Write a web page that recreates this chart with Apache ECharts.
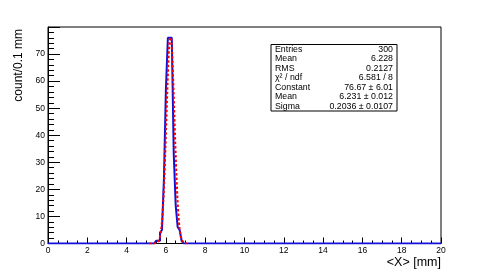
<!DOCTYPE html>
<html>
<head>
<meta charset="utf-8">
<script src="https://cdn.jsdelivr.net/npm/echarts@6/dist/echarts.min.js"></script>
<style>
html,body{margin:0;padding:0;background:#fff;}
#c{width:491px;height:272px;}
</style>
</head>
<body>
<div id="c"></div>
<script>
// Histogram: 200 bins of 0.1 mm over [0, 20]; non-empty bins start at firstBinLow
const xMin = 0, xMax = 20, binWidth = 0.1;
const firstBinLow = 5.5;
const binCounts = [1, 1, 4, 5, 24, 57, 76, 76, 76, 33, 14, 6, 5, 1];
// Gaussian fit parameters (from stats box)
const fitConstant = 76.67, fitMean = 6.231, fitSigma = 0.2036;
const fitRange = [5.15, 7.1];
// Tick labels
const xTicks = [0, 2, 4, 6, 8, 10, 12, 14, 16, 18, 20];
const yTicks = [0, 10, 20, 30, 40, 50, 60, 70];
// Stats box rows
const statNames = ['Entries', 'Mean', 'RMS', 'χ² / ndf', 'Constant', 'Mean', 'Sigma'];
const statValues = ['300', '6.228', '0.2127', '6.581 / 8', '76.67 ± 6.01', '6.231 ± 0.012', '0.2036 ± 0.0107'];

const nBins = Math.round((xMax - xMin) / binWidth);
const firstIdx = Math.round((firstBinLow - xMin) / binWidth);
const histData = [];
for (let i = 0; i < nBins; i++) {
  const k = i - firstIdx;
  const v = (k >= 0 && k < binCounts.length) ? binCounts[k] : 0;
  histData.push([+(xMin + i * binWidth).toFixed(2), v]);
}
histData.push([xMax, 0]);

const fitData = [];
for (let x = fitRange[0]; x <= fitRange[1] + 1e-9; x += 0.01) {
  const z = (x - fitMean) / fitSigma;
  fitData.push([x, fitConstant * Math.exp(-0.5 * z * z)]);
}

const FONT = 'Liberation Sans, Arial, Helvetica, sans-serif';
const gridL = 48, gridR = 50, gridT = 27, gridB = 28.5;

const graphics = [];
// stats box
const boxX = 271, boxY = 44.5, boxW = 126, boxH = 66.5;
graphics.push({type: 'rect', shape: {x: boxX, y: boxY, width: boxW, height: boxH},
  style: {fill: '#fff', stroke: '#000', lineWidth: 1}, z: 100});
const rowH = boxH / statNames.length;
statNames.forEach((n, i) => {
  const cy = boxY + rowH * (i + 0.5);
  graphics.push({type: 'text', x: boxX + 4, y: cy, z: 101,
    style: {text: n, fontSize: 8.8, fontFamily: FONT, fill: '#000', align: 'left', verticalAlign: 'middle'}});
  graphics.push({type: 'text', x: boxX + boxW - 4, y: cy, z: 101,
    style: {text: statValues[i], fontSize: 8.8, fontFamily: FONT, fill: '#000', align: 'right', verticalAlign: 'middle'}});
});
// axis titles
graphics.push({type: 'text', x: 19, y: 29, rotation: Math.PI / 2, z: 101,
  style: {text: 'count/0.1 mm', fontSize: 12, fontFamily: FONT, fill: '#000', align: 'right', verticalAlign: 'middle'}});
graphics.push({type: 'text', x: 441, y: 263, z: 101,
  style: {text: '<X> [mm]', fontSize: 12.5, fontFamily: FONT, fill: '#000', align: 'right', verticalAlign: 'middle'}});

const chart = echarts.init(document.getElementById('c'), null, {renderer: 'canvas'});
chart.setOption({
  animation: false,
  backgroundColor: '#fff',
  grid: {left: gridL, right: gridR, top: gridT, bottom: gridB, show: true,
    borderColor: '#000', borderWidth: 1, backgroundColor: 'transparent', containLabel: false},
  xAxis: {
    type: 'value', min: xMin, max: xMax, interval: 2,
    axisLine: {show: true, lineStyle: {color: '#000', width: 1}},
    axisTick: {show: true, inside: true, length: 6, lineStyle: {color: '#000'}},
    minorTick: {show: true, splitNumber: 4, length: 3, lineStyle: {color: '#000'}},
    splitLine: {show: false},
    axisLabel: {fontSize: 8.5, fontFamily: FONT, color: '#000', margin: 3,
      formatter: v => xTicks.includes(v) ? String(v) : ''}
  },
  yAxis: {
    type: 'value', min: 0, max: 80, interval: 10,
    axisLine: {show: true, lineStyle: {color: '#000', width: 1}},
    axisTick: {show: true, inside: true, length: 12, lineStyle: {color: '#000'}},
    minorTick: {show: true, splitNumber: 5, length: 6, lineStyle: {color: '#000'}},
    splitLine: {show: false},
    axisLabel: {fontSize: 8.5, fontFamily: FONT, color: '#000', margin: 3, showMaxLabel: false,
      formatter: v => yTicks.includes(v) ? String(v) : ''}
  },
  series: [
    {type: 'line', step: 'end', data: histData, symbol: 'none', z: 3,
      lineStyle: {color: '#1010d8', width: 2}},
    {type: 'line', data: fitData, symbol: 'none', z: 4, smooth: false,
      lineStyle: {color: '#ff0000', width: 2, type: [2.5, 2]}}
  ],
  graphic: graphics
});
</script>
</body>
</html>
